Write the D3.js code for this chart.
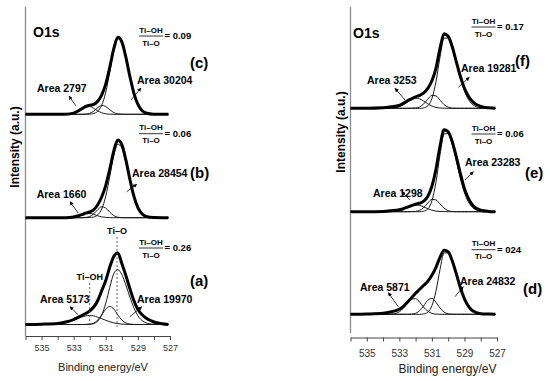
<!DOCTYPE html>
<html>
<head>
<meta charset="utf-8">
<script src="https://cdn.jsdelivr.net/npm/d3@7"></script>
<style>
  body { margin: 0; background: #fff; }
  text { font-family: Arial, "Liberation Sans", sans-serif; }
</style>
</head>
<body>
<div id="chart"></div>
<script>
// binding energy grid (eV) shared by every curve
var energy = [536, 535, 534, 533.5, 533, 532.75, 532.5, 532.25, 532, 531.75, 531.5, 531.25, 531,
              530.75, 530.5, 530.25, 530, 529.75, 529.5, 529.25, 529, 528.75, 528.5, 528, 527.5, 527.1]
var xTicks = [536, 535, 534, 533, 532, 531, 530, 529, 528, 527]
var xTickLabels = [535, 533, 531, 529, 527]

// sample (c)
var cEnvelope = [0,0,0,0.1,1.2,3.0,5.5,7.8,9.0,10.0,13.1,19.5,30.5,47.1,65.6,77,72.5,57.1,38,21.2,9.9,3.9,1.3,0.1,0,0]
var cTiO      = [0,0,0,0,0,0,0,0,0.2,0.8,3.0,9.1,22.2,42.5,63.9,75.6,71.8,57.1,38,21.2,9.9,3.9,1.3,0.1,0,0]
var cMid      = [0,0,0,0,0,0,0,0.2,1.0,3.2,6.6,8.9,7.8,4.5,1.7,0.4,0.1,0,0,0,0,0,0,0,0,0]
var cTiOH     = [0,0,0,0.1,1.2,3.0,5.5,7.6,7.8,6.0,3.5,1.5,0.5,0.1,0,0,0,0,0,0,0,0,0,0,0,0]
// sample (b)
var bEnvelope = [0,0,0,0,0.7,1.7,3.0,4.5,5.7,8.0,13.0,20.9,32.4,48.6,66.9,77.6,73,57.8,38.5,21.5,10.0,3.9,1.3,0.1,0,0]
var bTiO      = [0,0,0,0,0,0,0,0,0.2,0.7,2.9,8.8,21.6,41.3,62.2,73.5,69.9,55.5,37,20.6,9.6,3.7,1.2,0.1,0,0]
var bMid      = [0,0,0,0,0,0,0,0.3,1.2,3.9,8.1,10.9,9.6,5.5,2.1,0.5,0.1,0,0,0,0,0,0,0,0,0]
var bTiOH     = [0,0,0,0,0.7,1.7,3.0,4.2,4.3,3.3,1.9,0.8,0.3,0.1,0,0,0,0,0,0,0,0,0,0,0,0]
// sample (a)
var aEnvelope = [0,0.3,1,2.5,5,7,9,11,13.5,17.5,24,34,44,57.5,68,71.5,61,49,36,24,15,10,6.5,2.5,0.8,0]
var aTiO      = [0,0,0,0,0,0,0,0,0.2,0.9,3.4,9.7,21.4,37.2,50.9,54.8,49.9,39.6,27.5,16.7,8.8,4.1,1.7,0.2,0,0]
var aMid      = [0,0,0,0,0,0,0,0.1,0.4,1.5,4.4,9.6,15.4,18,15.4,9.6,4.4,1.5,0.4,0.1,0,0,0,0,0,0]
var aTiOH     = [0,0,0.4,1.6,4.2,5.8,7.4,8.6,9,8.6,7.4,5.8,4.2,2.7,1.6,0.9,0.4,0.2,0.1,0,0,0,0,0,0,0]
// sample (f)
var fEnvelope = [0,0,0.5,1.5,3,5,7.5,9.5,11.5,13,15.5,20,27.5,40,60,74.5,72,61.5,46.5,32,20,12,6.5,2,0.5,0]
var fTiO      = [0,0,0,0,0,0,0,0,0,0,0.4,2.5,9.7,26.6,51.3,70.1,70.3,60.6,45.6,30.0,17.2,8.6,3.7,0.5,0,0]
var fMid      = [0,0,0,0,0,0,0,0.1,0.3,1.4,4.4,9.1,12.9,12.4,8.1,3.6,1.1,0.2,0,0,0,0,0,0,0,0]
var fTiOH     = [0,0,0,0.2,1.6,3.5,6.1,8.6,10.0,9.4,7.2,4.5,2.3,0.9,0.3,0.1,0,0,0,0,0,0,0,0,0,0]
// sample (e)
var eEnvelope = [0,0,0.3,1,2,3,4.5,6,7.5,8.5,10.5,15.5,25.5,42.5,65.5,82,80,70,55,38,23,13,6.5,1.5,0.3,0]
var eTiO      = [0,0,0,0,0,0,0,0,0,0,0.5,2.8,10.8,29.5,57.0,77.8,78.1,67.3,50.6,33.3,19.1,9.6,4.2,0.6,0,0]
var eMid      = [0,0,0,0,0,0,0,0.1,0.3,1.4,4.2,8.7,12.3,11.8,7.8,3.5,1.1,0.2,0,0,0,0,0,0,0,0]
var eTiOH     = [0,0,0,0.1,1.1,2.3,4.1,5.8,6.7,6.3,4.8,3.0,1.5,0.6,0.2,0.1,0,0,0,0,0,0,0,0,0,0]
// sample (d)
var dEnvelope = [0,0.3,1,2.5,5,8,12,16.5,21,25,29,33,39,47,57,64,62.5,53.5,40.5,26.5,15.5,8,3.5,0.6,0.2,0]
var dTiO      = [0,0,0,0,0,0,0,0,0,0,0.4,2.2,8.5,23.2,44.9,61.3,61.5,53.0,39.9,26.2,15.1,7.6,3.3,0.4,0,0]
var dMid      = [0,0,0,0,0,0,0,0.2,1.0,3.6,8.6,14.1,15.9,12.1,6.3,2.2,0.5,0.1,0,0,0,0,0,0,0,0]
var dTiOH     = [0,0,0,0.2,2.5,6.1,11.1,15.2,15.6,12.1,7.0,3.1,1.0,0.2,0,0,0,0,0,0,0,0,0,0,0,0]

// vertical stacking offsets (a.u.)
var leftOffsets = [220.7, 117.3, 10.5]   // c, b, a
var rightOffsets = [226.7, 123.3, 20.7]  // f, e, d
var leftNames = ['(c)', '(b)', '(a)']
var rightNames = ['(f)', '(e)', '(d)']
var leftRatios = ['= 0.09', '= 0.06', '= 0.26']
var rightRatios = ['= 0.17', '= 0.06', '= 024']
var leftAreas = [['Area 2797', 'Area 30204'], ['Area 1660', 'Area 28454'], ['Area 5173', 'Area 19970']]
var rightAreas = [['Area 3253', 'Area 19281'], ['Area 1298', 'Area 23283'], ['Area 5871', 'Area 24832']]
var refLines = [{name: 'Ti–O', e: 530.3}, {name: 'Ti–OH', e: 532.0}]

var width = 550, height = 381

var svg = d3.select('#chart').append('svg')
            .attr('width', width)
            .attr('height', height)

svg.append('defs').append('marker')
   .attr('id', 'arr')
   .attr('viewBox', '0 0 10 10')
   .attr('refX', 9).attr('refY', 5)
   .attr('markerWidth', 5).attr('markerHeight', 5)
   .attr('orient', 'auto')
   .append('path').attr('d', 'M0,0L10,5L0,10z').attr('fill', '#000')

var y = d3.scaleLinear().domain([0, 330]).range([335, 5])

var panels = [
  {
    x: d3.scaleLinear().domain([536, 527]).range([25.5, 170]),
    spectra: [[cEnvelope, cTiO, cMid, cTiOH], [bEnvelope, bTiO, bMid, bTiOH], [aEnvelope, aTiO, aMid, aTiOH]],
    offsets: leftOffsets, names: leftNames, ratios: leftRatios, areas: leftAreas,
    axisY: 336, yTop: 7, yBottom: 336, tickFont: 9, tickPad: 5, titleFont: 11, titleY: 370.5, titleX: 103,
    ylabX: 15, ylabY: 147, o1s: [33, 37],
    fracX: 151, fracY: [36, 133.7, 248], nameXY: [[190, 68], [190, 178], [190, 286]],
    areaLeft: [[37, 92, 76, 106, 69, 96], [36.7, 198, 78.3, 213.3, 70, 201.7], [40, 303, 78.3, 315, 70, 306.7]],
    areaRight: [[137, 84, 131, 100, 141, 88], [132, 177, 126.7, 191.7, 136.7, 184.3], [137, 303, 130, 316.7, 141.7, 306.7]]
  },
  {
    x: d3.scaleLinear().domain([536, 527]).range([350.5, 497]),
    spectra: [[fEnvelope, fTiO, fMid, fTiOH], [eEnvelope, eTiO, eMid, eTiOH], [dEnvelope, dTiO, dMid, dTiOH]],
    offsets: rightOffsets, names: rightNames, ratios: rightRatios, areas: rightAreas,
    axisY: 337.5, yTop: 7, yBottom: 333, tickFont: 10, tickPad: 8, titleFont: 12, titleY: 372.5, titleX: 447.5,
    ylabX: 341, ylabY: 132, o1s: [353, 38],
    fracX: 483.5, fracY: [27, 134, 249.7], nameXY: [[515, 66], [525, 178], [523, 294]],
    areaLeft: [[367, 84, 405, 100, 395, 88.3], [373, 197, 410, 200, 401.7, 191.7], [360, 291, 398.3, 306.7, 388.3, 292.7]],
    areaRight: [[461, 72, 458.3, 87.3, 469.3, 77.3], [465, 166, 465, 180, 473.3, 171.7], [460, 285, 455, 296.7, 463.3, 286.7]]
  }
]

panels.forEach(function(p, pi) {
  var x = p.x
  var g = svg.append('g')

  // y axis line (no ticks)
  g.append('line')
   .attr('x1', x(536)).attr('x2', x(536))
   .attr('y1', p.yTop).attr('y2', p.yBottom)
   .attr('stroke', '#8c8c8c').attr('stroke-width', 1.3)

  // x axis
  var ax = g.append('g')
            .attr('transform', 'translate(0,' + p.axisY + ')')
            .call(d3.axisBottom(x)
                    .tickValues(xTicks)
                    .tickSize(4)
                    .tickSizeOuter(0)
                    .tickPadding(p.tickPad)
                    .tickFormat(function(d) { return xTickLabels.indexOf(d) >= 0 ? d : '' }))
  ax.select('.domain').attr('stroke', '#444')
  ax.selectAll('.tick line').attr('stroke', '#444')
  ax.selectAll('.tick text')
    .attr('font-size', p.tickFont)
    .attr('font-family', 'Arial, "Liberation Sans", sans-serif')
    .attr('fill', '#333')

  g.append('text')
   .attr('x', p.titleX).attr('y', p.titleY)
   .attr('text-anchor', 'middle')
   .attr('font-size', p.titleFont)
   .attr('fill', '#222')
   .text('Binding energy/eV')

  g.append('text')
   .attr('transform', 'translate(' + p.ylabX + ',' + p.ylabY + ') rotate(-90)')
   .attr('text-anchor', 'middle')
   .attr('dy', '0.35em')
   .attr('font-size', 12).attr('font-weight', 'bold')
   .text('Intensity (a.u.)')

  g.append('text')
   .attr('x', p.o1s[0]).attr('y', p.o1s[1])
   .attr('font-size', 14).attr('font-weight', 'bold')
   .text('O1s')

  // spectra
  p.spectra.forEach(function(curves, si) {
    var off = p.offsets[si]
    var line = d3.line()
                 .x(function(d, i) { return x(energy[i]) })
                 .y(function(d) { return y(d + off) })
                 .curve(d3.curveMonotoneX)

    curves.slice(1).forEach(function(c) {
      g.append('path')
       .attr('d', line(c))
       .attr('fill', 'none')
       .attr('stroke', '#1a1a1a')
       .attr('stroke-width', 1)
    })
    g.append('path')
     .attr('d', line(curves[0]))
     .attr('fill', 'none')
     .attr('stroke', '#000')
     .attr('stroke-width', 3)
     .attr('stroke-linejoin', 'round')

    // sample name
    g.append('text')
     .attr('x', p.nameXY[si][0]).attr('y', p.nameXY[si][1])
     .attr('font-size', 15).attr('font-weight', 'bold')
     .text(p.names[si])

    // Ti-OH / Ti-O ratio
    var fy = p.fracY[si]
    var fr = g.append('g').attr('font-weight', 'bold')
    fr.append('text').attr('x', p.fracX).attr('y', fy - 3.5)
      .attr('text-anchor', 'middle').attr('font-size', 8).text('Ti–OH')
    fr.append('line').attr('x1', p.fracX - 12).attr('x2', p.fracX + 12)
      .attr('y1', fy).attr('y2', fy).attr('stroke', '#000').attr('stroke-width', 0.8)
    fr.append('text').attr('x', p.fracX).attr('y', fy + 9.5)
      .attr('text-anchor', 'middle').attr('font-size', 8).text('Ti–O')
    fr.append('text').attr('x', p.fracX + 13.5).attr('y', fy + 3.2)
      .attr('font-size', 9.5).text(p.ratios[si])

    // area annotations with arrows
    ;[p.areaLeft[si], p.areaRight[si]].forEach(function(a, k) {
      g.append('text')
       .attr('x', a[0]).attr('y', a[1])
       .attr('font-size', 10.5).attr('font-weight', 'bold')
       .text(p.areas[si][k])
      g.append('line')
       .attr('x1', a[2]).attr('y1', a[3])
       .attr('x2', a[4]).attr('y2', a[5])
       .attr('stroke', '#000').attr('stroke-width', 0.8)
       .attr('marker-end', 'url(#arr)')
    })
  })

  // reference lines in sample (a)
  if (pi === 0) {
    var offA = p.offsets[2]
    refLines.forEach(function(r, k) {
      var top = k === 0 ? 237 : 283
      g.append('line')
       .attr('x1', x(r.e)).attr('x2', x(r.e))
       .attr('y1', top).attr('y2', y(offA) + 3)
       .attr('stroke', '#555').attr('stroke-width', 0.9)
       .attr('stroke-dasharray', '2,2')
      g.append('text')
       .attr('x', x(r.e)).attr('y', top - 3)
       .attr('text-anchor', 'middle')
       .attr('font-size', 9).attr('font-weight', 'bold')
       .text(r.name)
    })
  }
})
</script>
</body>
</html>
